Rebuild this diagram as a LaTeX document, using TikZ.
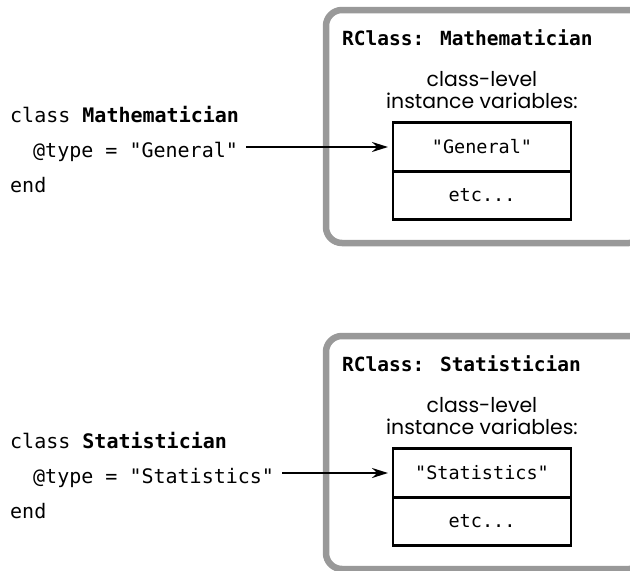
\documentclass[tikz,border=0pt]{standalone}
\usepackage{fontspec}
\setmainfont{Poppins}
\newfontfamily\codefont{DejaVu Sans Mono}
\usetikzlibrary{arrows.meta, positioning}

\begin{document}
\begin{tikzpicture}[x=1pt, y=-1pt, >={Stealth[length=16pt, width=10pt]},
  code/.style={font=\codefont\fontsize{20}{24}\selectfont, anchor=base west, inner sep=0pt},
  cell/.style={draw, line width=2.5pt, outer sep=0pt, inner sep=0pt, minimum width=178pt, minimum height=49pt, font=\codefont\fontsize{18.5}{20}\selectfont},
  outerbox/.style={draw=black!40, line width=6.5pt, rounded corners=16pt},
  lbl/.style={font=\fontsize{20.4}{22}\selectfont, align=center, inner sep=0pt}]
\useasboundingbox (0,0) rectangle (630,571);
\foreach \n/\cls/\val/\y in {math/Mathematician/General/0, stat/Statistician/Statistics/326} {
  % the RClass frame, cut off at the right edge of the page
  \draw[outerbox] (326,\y+10) rectangle (645,\y+243);
  \node[code, font=\codefont\bfseries\fontsize{19.5}{24}\selectfont] (\n-title) at (342,\y+45) {RClass: \cls};
  \node[lbl] (\n-lbl) at (482,\y+90) {class-level\\instance variables:};
  % the table of class-level instance variables
  \node[cell] (\n-val) at (482,\y+147) {"\val"};
  \node[cell, minimum height=48pt, below=0pt of \n-val] (\n-etc) {etc...};
  % the Ruby source on the left
  \node[code] (\n-cls) at (10,\y+122) {class \textbf{\cls}};
  \node[code] (\n-type) at (33,\y+157) {@type = "\val"};
  \node[code] (\n-end) at (10,\y+192) {end};
  \draw[->, line width=2.2pt, shorten <=8pt, shorten >=5pt] (\n-type.east |- \n-val.west) -- (\n-val.west);
}
\end{tikzpicture}
\end{document}
